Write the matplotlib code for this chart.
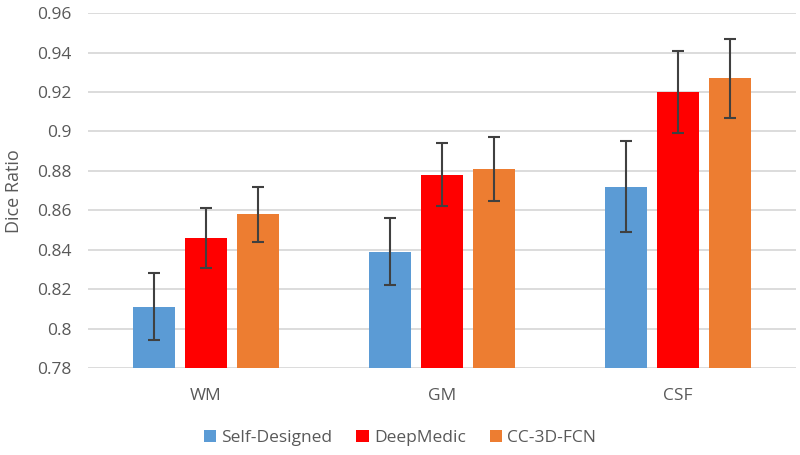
import numpy as np
import matplotlib.pyplot as plt

# Data
categories = ['WM', 'GM', 'CSF']
series_names = ['Self-Designed', 'DeepMedic', 'CC-3D-FCN']
self_designed = [0.811, 0.839, 0.872]
deepmedic = [0.846, 0.878, 0.920]
cc3dfcn = [0.858, 0.881, 0.927]
self_err = [0.017, 0.017, 0.023]
deepmedic_err = [0.015, 0.016, 0.021]
cc3dfcn_err = [0.014, 0.016, 0.020]

colors = ['#5B9BD5', '#FF0000', '#ED7D31']
plt.rcParams['font.family'] = ['Open Sans', 'DejaVu Sans']

fig = plt.figure(figsize=(8, 4.55), dpi=100)
ax = fig.add_axes([0.11, 0.191, 0.885, 0.78])

x = np.arange(len(categories))
width = 0.175
offsets = [-0.22, 0.0, 0.22]
values = [self_designed, deepmedic, cc3dfcn]
errs = [self_err, deepmedic_err, cc3dfcn_err]

for vals, err, off, col, name in zip(values, errs, offsets, colors, series_names):
    ax.bar(x + off, vals, width, color=col, label=name, zorder=2)
    ax.errorbar(x + off, vals, yerr=err, fmt='none', ecolor='#404040',
                elinewidth=1.5, capsize=4, capthick=1.5, zorder=3)

ax.set_xlim(-0.5, 2.5)
ax.set_ylim(0.78, 0.96)
ax.set_yticks(np.arange(0.78, 0.961, 0.02))
ax.set_yticklabels(['0.78', '0.8', '0.82', '0.84', '0.86', '0.88', '0.9', '0.92', '0.94', '0.96'])
ax.set_xticks(x)
ax.set_xticklabels(categories)
ax.tick_params(axis='both', length=0, labelsize=12.5, colors='#595959')
ax.tick_params(axis='x', pad=14)
ax.tick_params(axis='y', pad=12)
ax.yaxis.grid(True, color='#D9D9D9', linewidth=1.3, zorder=0)
ax.set_axisbelow(True)
for s in ax.spines.values():
    s.set_visible(False)

ax.set_ylabel('Dice Ratio', fontsize=13, color='#595959', labelpad=10)

fig.legend(loc='lower center', ncol=3, frameon=False, fontsize=12.5,
           bbox_to_anchor=(0.5, -0.015), handlelength=0.7, handleheight=0.7,
           handletextpad=0.3, columnspacing=1.4, labelcolor='#595959')

fig.savefig('out.png', dpi=100)
